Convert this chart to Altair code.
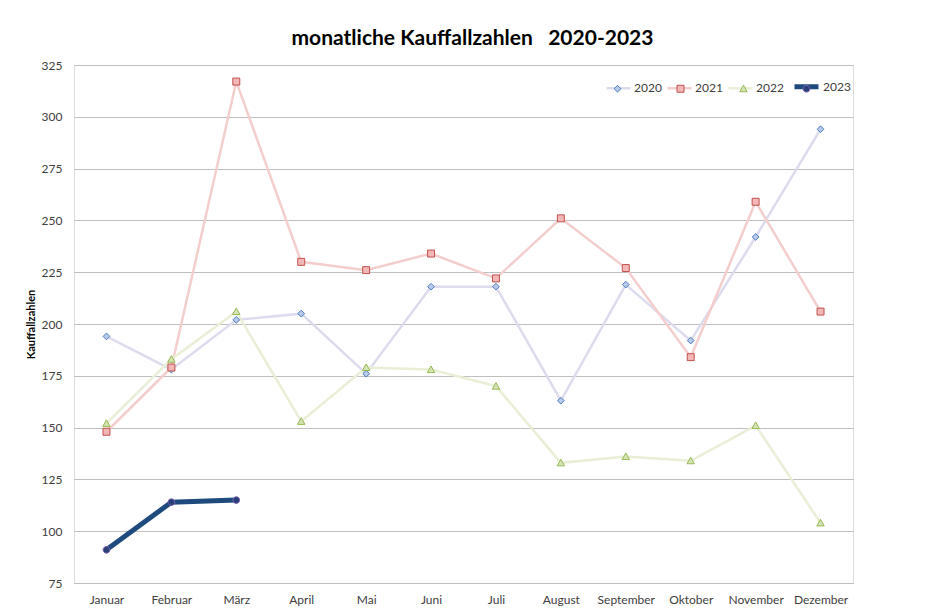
import altair as alt
import pandas as pd

months = ["Januar", "Februar", "März", "April", "Mai", "Juni", "Juli",
          "August", "September", "Oktober", "November", "Dezember"]
years = ["2020", "2021", "2022", "2023"]
v2020 = [194, 178, 202, 205, 176, 218, 218, 163, 219, 192, 242, 294]
v2021 = [148, 179, 317, 230, 226, 234, 222, 251, 227, 184, 259, 206]
v2022 = [152, 183, 206, 153, 179, 178, 170, 133, 136, 134, 151, 104]
v2023 = [91, 114, 115]
y_ticks = [75, 100, 125, 150, 175, 200, 225, 250, 275, 300, 325]

rows = []
for yr, vals in zip(years, [v2020, v2021, v2022, v2023]):
    for m, v in zip(months, vals):
        rows.append({"Monat": m, "Jahr": yr, "JahrM": yr, "Wert": v})
df = pd.DataFrame(rows)

line_colors = ["#dcdcee", "#f4cdcd", "#e8efd6", "#1f4a7e"]
line_widths = [2.5, 2.5, 2.5, 5]
marker_fill = ["#b8c9ea", "#f2b7b6", "#d4e3b5", "#2b3f7a"]
marker_stroke = ["#4f7fc0", "#c0504d", "#98b954", "#7a62b0"]
shapes = [
    "M0,-0.28L0.28,0L0,0.28L-0.28,0Z",
    "M-0.29,-0.29H0.29V0.29H-0.29Z",
    "M0,-0.3L0.31,0.25H-0.31Z",
    "M0.28,0A0.28,0.28,0,1,1,-0.28,0A0.28,0.28,0,1,1,0.28,0Z",
]

FONT = "Lato"
SYM = 576
LX = 531

x = alt.X("Monat:N", sort=months,
          scale=alt.Scale(type="point", padding=0.5),
          axis=alt.Axis(title=None, labelAngle=0, ticks=False, domain=False,
                        grid=False, labelPadding=11, labelFontSize=12,
                        labelColor="#404040", labelFont=FONT))
y = alt.Y("Wert:Q",
          scale=alt.Scale(domain=[75, 325], nice=False, zero=False),
          axis=alt.Axis(values=y_ticks, title="Kauffallzahlen", ticks=False,
                        domain=False, grid=True, gridColor="#bfbfbf",
                        labelPadding=12, labelFontSize=12, labelColor="#404040",
                        labelFont=FONT, titleFont=FONT, titleFontSize=11,
                        titleFontWeight="bold", titleColor="#000000",
                        titlePadding=5))

legend_common = dict(orient="none", direction="horizontal", title=None,
                     symbolSize=SYM, labelFontSize=12, labelFont=FONT,
                     labelOffset=2, padding=0)

leg1 = alt.Legend(legendX=LX, legendY=7, symbolType="M-1,0H1",
                  labelColor="#404040", columnPadding=0, **legend_common)
lines = alt.Chart(df).mark_line().encode(
    x=x, y=y,
    color=alt.Color("Jahr:N", scale=alt.Scale(range=line_colors), legend=leg1),
    strokeWidth=alt.StrokeWidth("Jahr:N",
                                scale=alt.Scale(type="ordinal", range=line_widths),
                                legend=leg1),
)

leg2 = alt.Legend(legendX=LX, legendY=11, symbolStrokeWidth=1,
                  labelOpacity=0, columnPadding=8, **legend_common)
points = alt.Chart(df).mark_point(size=SYM, filled=True, strokeWidth=1,
                                  opacity=1).encode(
    x=x, y=y,
    shape=alt.Shape("JahrM:N", scale=alt.Scale(range=shapes), legend=leg2),
    fill=alt.Fill("JahrM:N", scale=alt.Scale(range=marker_fill), legend=leg2),
    stroke=alt.Stroke("JahrM:N", scale=alt.Scale(range=marker_stroke), legend=leg2),
)

chart = alt.layer(lines, points).properties(
    width=779, height=518,
    autosize=alt.AutoSizeParams(type="none"),
    padding={"left": 66, "top": 57, "right": 68, "bottom": 35},
    title=alt.TitleParams("monatliche Kauffallzahlen\u00a0\u00a0\u00a02020-2023",
                          font=FONT, fontSize=21, fontWeight="bold",
                          color="#000000", anchor="middle", dx=9, offset=10),
).configure_view(stroke="#bfbfbf", strokeWidth=1).configure(background="white")

chart.save("out.html", embed_options={"renderer": "svg", "actions": False})
